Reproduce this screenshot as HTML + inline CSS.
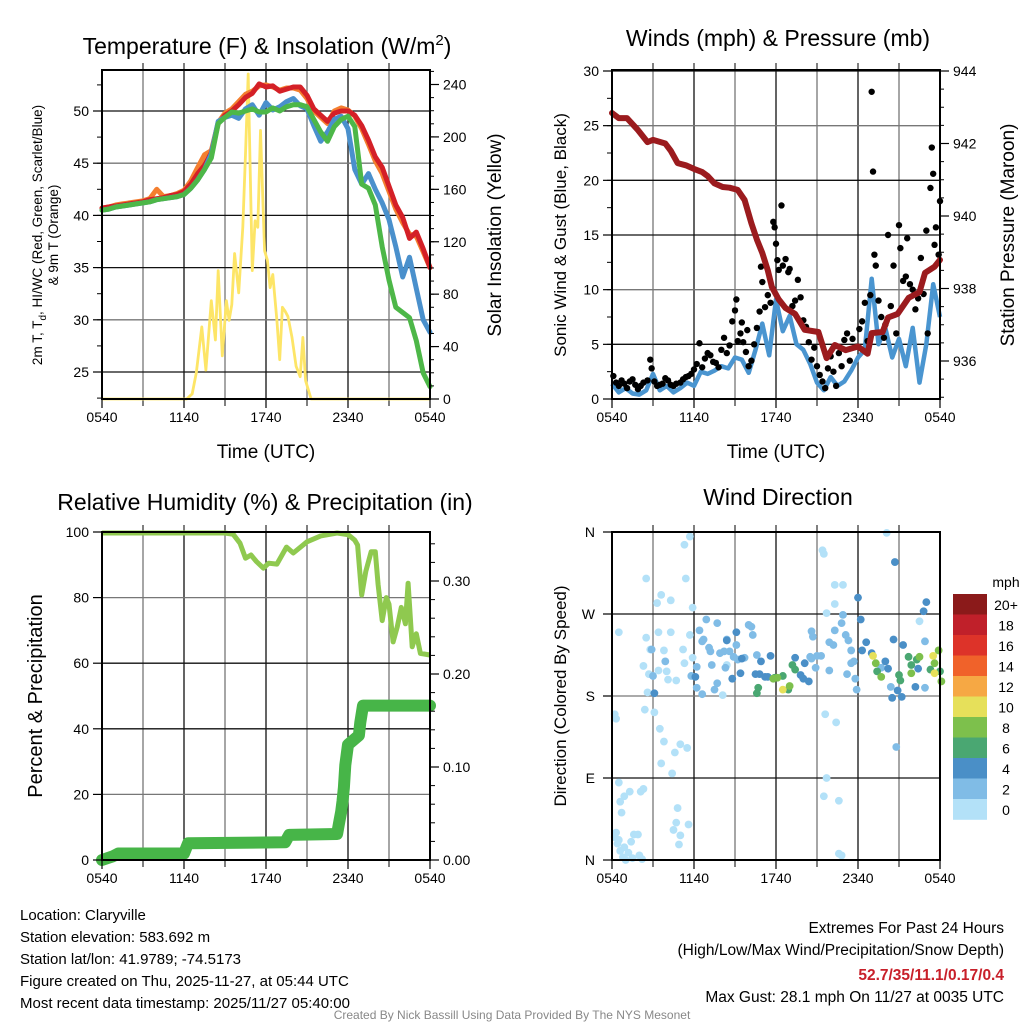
<!DOCTYPE html>
<html><head><meta charset="utf-8"><style>
html,body{margin:0;padding:0;background:#fff;}
svg{display:block;font-family:"Liberation Sans",sans-serif;}
</style></head><body>
<svg id="chart" xmlns="http://www.w3.org/2000/svg" width="1024" height="1024" viewBox="0 0 1024 1024">
<rect x="0" y="0" width="1024" height="1024" fill="#fff"/>
</svg>
<script>
// ---------- DATA ----------
const timeTicks = ["0540","1140","1740","2340","0540"];
const halfHours = [0,0.5,1,1.5,2,2.5,3,3.5,4,4.5,5,5.5,6,6.5,7,7.5,8,8.5,9,9.5,10,10.5,11,11.5,12,12.5,13,13.5,14,14.5,15,15.5,16,16.5,17,17.5,18,18.5,19,19.5,20,20.5,21,21.5,22,22.5,23,23.5,24];
const tempRed = [40.7,40.8,40.9,41.0,41.1,41.2,41.3,41.5,41.6,41.7,41.9,42.0,42.3,43.0,44.0,44.8,46.0,48.8,49.6,50.0,50.6,51.3,51.7,52.6,52.3,52.4,51.9,52.1,52.3,52.3,51.5,50.2,49.6,49.0,49.8,50.0,50.0,49.6,48.6,47.2,45.6,44.6,42.8,41.0,39.8,37.8,38.4,36.8,35.0];
const tempOrange = [40.7,40.8,41.0,41.1,41.2,41.3,41.4,41.6,42.5,41.8,41.9,42.1,42.4,43.3,44.6,45.8,46.2,48.9,49.8,50.2,50.9,51.6,51.9,52.4,52.5,52.3,52.0,52.2,52.2,52.0,51.2,50.0,49.4,48.8,50.0,50.3,50.1,49.5,48.3,46.8,45.2,44.0,42.3,40.6,39.3,38.2,38.0,36.5,35.0];
const tempBlue = [40.5,40.6,40.8,40.9,41.0,41.1,41.2,41.3,41.5,41.6,41.7,41.8,42.0,42.6,43.4,44.4,45.9,49.0,49.4,49.6,49.3,50.2,50.6,49.6,50.8,50.1,50.4,50.9,51.2,50.5,50.2,48.6,47.1,48.0,49.2,49.5,48.3,44.4,43.0,44.0,42.5,41.2,39.6,37.0,34.1,36.0,33.0,30.0,28.8];
const tempGreen = [40.5,40.6,40.8,40.9,41.0,41.1,41.2,41.3,41.5,41.6,41.7,41.8,42.0,42.6,43.4,44.4,45.5,48.8,49.4,49.9,49.8,50.0,50.2,49.9,49.9,50.3,50.0,50.4,50.6,50.6,50.4,49.2,48.0,47.1,48.5,49.2,49.5,48.5,43.0,42.6,41.0,37.0,33.8,31.2,30.7,30.2,28.0,24.9,23.6];
const solarTime = [0,6.2,6.6,6.9,7.3,7.6,8.0,8.3,8.5,8.8,9.1,9.3,9.5,9.7,10.0,10.3,10.5,10.7,11.0,11.2,11.4,11.6,11.9,12.1,12.3,12.5,12.8,13.0,13.2,13.4,13.6,13.9,14.2,14.5,14.7,14.9,15.3,24];
const solarVal = [0,0,4,20,55,22,75,45,98,33,75,60,72,111,81,131,187,248,98,136,131,205,113,106,85,95,60,30,70,67,63,47,25,17,47,14,0,0];
const pressTime = [0,0.5,1.1,1.9,2.6,3.0,3.9,4.3,4.8,5.4,6.0,6.6,7.0,7.5,8.1,8.6,9.2,9.7,10.2,10.6,11.0,11.4,11.7,12.2,12.7,13.4,14.1,15.1,15.7,16.3,17.1,18.0,18.7,19.0,19.8,20.2,20.9,21.7,22.5,22.9,23.6,24];
const pressVal = [942.84,942.7,942.7,942.37,942.04,942.1,942.0,941.8,941.46,941.4,941.3,941.21,941.1,940.9,940.8,940.78,940.72,940.44,939.8,939.35,938.98,938.5,938.04,937.7,937.46,937.3,936.86,936.8,936.08,936.44,936.3,936.4,936.2,936.77,936.8,937.2,937.3,937.74,937.9,938.43,938.6,938.79];
const windVal = [1.4,0.6,1.0,0.5,0.4,0.8,2.3,0.8,1.2,0.6,1.0,1.5,1.2,2.5,2.3,2.6,3.0,2.8,3.8,3.6,2.4,4.5,6.9,4.0,9.1,6.2,7.6,5.0,4.5,3.2,1.5,0.8,2.0,1.2,1.6,2.6,3.8,4.5,11.0,5.0,6.5,3.8,5.5,3.0,6.5,1.5,5.0,10.5,7.5];
const gustTime = [0.1,0.3,0.5,0.7,0.9,1.1,1.3,1.5,1.7,1.9,2.1,2.3,2.6,2.8,2.9,3.1,3.3,3.5,3.7,3.9,4.1,4.3,4.5,4.7,5.0,5.2,5.4,5.6,5.8,6.0,6.2,6.4,6.6,6.8,7.0,7.2,7.4,7.6,7.8,8.0,8.2,8.4,8.6,8.8,9.0,9.1,9.2,9.4,9.5,9.6,9.8,9.9,10.0,10.2,10.4,10.6,10.8,10.9,11.0,11.2,11.4,11.6,11.8,11.9,12.0,12.1,12.2,12.4,12.5,12.7,12.9,13.0,13.2,13.4,13.6,13.8,14.0,14.2,14.4,14.6,14.8,15.0,15.2,15.4,15.6,15.8,16.0,16.2,16.4,16.6,16.8,17.0,17.2,17.4,17.6,17.9,18.1,18.3,18.5,18.7,18.9,19.0,19.1,19.2,19.3,19.5,19.7,19.9,20.0,20.2,20.4,20.6,20.8,21.0,21.1,21.3,21.5,21.6,21.8,22.0,22.2,22.4,22.6,22.8,23.0,23.1,23.3,23.4,23.5,23.6,23.7,23.9,24.0];
const gustVal = [2.1,1.5,1.2,1.7,1.4,1.0,1.6,1.8,1.3,0.9,1.2,1.5,1.7,3.6,2.8,1.6,1.2,1.3,1.4,1.9,1.7,1.3,1.2,1.4,1.5,1.8,2.0,2.1,2.3,2.7,3.2,5.1,2.9,3.7,4.2,4.0,3.4,3.3,2.9,4.5,5.6,4.2,4.9,7.1,8.1,9.1,5.3,6.0,7.0,5.2,4.3,6.3,3.0,3.5,5.0,6.5,8.0,12.1,10.7,8.4,9.5,8.8,16.2,15.7,14.2,12.7,11.8,17.7,12.2,12.8,11.6,11.9,8.5,9.0,10.9,9.3,7.2,6.6,5.2,3.6,4.7,3.0,2.2,1.6,1.0,2.8,3.9,2.5,1.2,4.2,3.0,5.4,6.0,3.5,5.5,4.8,6.4,7.1,8.8,5.3,9.5,28.1,20.8,13.2,12.2,9.0,7.5,5.6,6.8,15.0,8.5,12.2,6.0,15.9,13.8,10.8,11.2,14.7,10.5,10.0,8.2,9.2,12.9,9.6,15.4,6.0,19.3,23.0,20.6,14.1,15.7,13.2,18.1];
const rhTime = [0,9.0,9.6,10.1,10.5,10.9,11.3,11.8,12.2,12.8,13.5,14.0,15.0,16.0,17.2,18.0,18.5,18.7,19.0,19.3,19.7,20.0,20.2,20.5,20.8,21.0,21.3,21.6,21.9,22.2,22.4,22.7,23.0,23.3,24];
const rhVal = [99.7,99.7,99.3,96.6,92,93,91,89,90.5,90.2,95.4,93.6,97,98.8,99.7,99.2,97.5,96,80.8,88,94,94,84,73,80,78,66.5,71,77,72,84.4,65,69,63,62.5];
const precipTime = [0,0.8,1.2,6.0,6.3,13.4,13.7,17.2,17.35,17.5,17.6,17.7,17.8,18.0,18.8,18.9,19.1,24];
const precipVal = [0.0,0.004,0.007,0.007,0.018,0.019,0.027,0.028,0.040,0.052,0.063,0.078,0.102,0.124,0.134,0.148,0.166,0.166];
const speedBins = ["0","2","4","6","8","10","12","14","16","18","20+"];
const speedColors = ["#b3e1f8","#80bce6","#4a8fc7","#4aa772","#7dc04c","#e6e05a","#f6a844","#f0622a","#dd3329","#c0202a","#8b1a1a"];
const dirSpeed1 = [[0.2,25],[0.4,18],[0.6,10],[0.8,3],[1.0,0],[1.2,8],[1.4,20],[1.6,28],[1.9,28],[2.0,5],[1.5,2],[0.9,14],[2.2,1],[0.3,30],[0.5,22],[0.5,85],[0.7,52],[0.9,70],[1.3,75],[2.1,75],[2.3,78],[0.6,64],[0.2,160],[0.3,155],[0.5,250],[2.5,309],[3.3,282],[3.6,291],[4.3,285],[5.3,346],[5.7,355],[5.4,309],[5.9,277],[2.4,165],[3.1,162],[3.5,144],[3.8,130],[3.6,106],[4.6,118],[4.4,95],[5.0,127],[5.5,123],[4.8,57],[4.7,41],[5.0,27],[4.9,17],[4.5,33],[5.6,39],[2.5,244],[2.8,231],[2.3,213],[2.7,204],[3.4,208],[3.8,230],[4.0,207],[4.1,198],[4.7,197],[5.2,231],[5.3,216],[2.6,184],[3.4,250],[4.3,250],[5.9,222],[5.7,247],[15.7,271],[16.3,302],[16.9,302],[16.3,281],[15.4,340],[15.5,336],[15.6,160],[16.4,151],[15.7,90],[15.5,70],[16.6,65],[16.6,7],[16.8,5],[20.1,359],[22.5,262],[8.4,214],[8.1,181]];
const dirSpeed3 = [[2.9,231],[3.9,218],[3.0,202],[5.8,202],[6.2,212],[6.4,252],[6.6,240],[6.7,242],[6.9,264],[7.1,233],[7.2,229],[7.3,214],[7.7,260],[7.9,227],[8.2,229],[8.3,211],[8.4,242],[8.6,229],[8.9,223],[9.1,236],[9.2,220],[9.7,222],[10.0,258],[10.2,256],[10.3,247],[10.6,225],[6.2,189],[7.7,194],[6.6,182],[7.5,187],[14.6,251],[14.7,245],[14.5,223],[14.6,221],[14.9,211],[15.0,224],[15.3,224],[15.9,239],[16.2,236],[16.3,252],[16.8,260],[16.9,269],[17.1,247],[17.3,241],[17.5,230],[17.7,218],[17.9,187],[17.8,199],[17.2,204],[20.8,124],[22.9,240],[22.9,189],[20.4,190],[15.9,208],[17.5,216],[19.7,211]];
const dirSpeed5 = [[3.1,183],[6.1,201],[8.4,241],[9.1,250],[8.8,199],[9.4,205],[9.5,221],[10.5,204],[10.8,204],[10.9,218],[11.2,201],[11.4,201],[11.6,224],[13.4,222],[13.8,203],[14.0,199],[14.1,216],[14.4,196],[18.0,288],[18.2,264],[18.6,239],[18.3,230],[19.0,227],[20.0,218],[20.2,210],[20.6,242],[20.7,327],[21.3,236],[20.5,178],[20.9,186],[21.2,179],[22.8,273],[23.0,283],[22.2,190],[22.4,210]];
const dirSpeed7 = [[10.6,183],[10.7,189],[11.9,200],[12.5,202],[13.2,214],[13.4,209],[12.9,187],[21.0,203],[21.1,197],[21.7,223],[21.9,214],[22.3,220],[23.3,209],[24.0,207],[19.4,207]];
const dirSpeed9 = [[11.8,199],[12.1,200],[13.0,191],[19.3,216],[23.9,230],[23.6,216],[24.1,196],[22.5,223],[21.9,205],[19.7,201]];
const dirSpeed11 = [[12.5,187],[19.1,224],[23.5,224],[23.6,205]];

// ---------- HELPERS ----------
const NS = "http://www.w3.org/2000/svg";
const svg = document.getElementById("chart");
function mk(tag, attrs, parent) {
  const e = document.createElementNS(NS, tag);
  for (const k in attrs) e.setAttribute(k, attrs[k]);
  (parent || svg).appendChild(e);
  return e;
}
function txt(s, x, y, size, anchor, parent, extra) {
  const e = mk("text", Object.assign({x: x, y: y, "font-size": size, "text-anchor": anchor || "middle", fill: "#000"}, extra || {}), parent);
  e.textContent = s;
  return e;
}
function lin(d0, d1, p0, p1) { return v => p0 + (v - d0) * (p1 - p0) / (d1 - d0); }
function pathFrom(xs, ys, fx, fy) {
  let d = "";
  for (let i = 0; i < xs.length; i++) d += (i ? "L" : "M") + fx(xs[i]).toFixed(1) + " " + fy(ys[i]).toFixed(1);
  return d;
}
function panelFrame(g, L, T, R, B, xTicksFn, hGrid) {
  for (let k = 1; k < 8; k++) {
    const x = L + k * (R - L) / 8;
    const gl = mk("line", {x1: x, y1: T, x2: x, y2: B, stroke: k % 2 ? "#777" : "#111", "stroke-width": 1.3}, g);
    
    
    mk("line", {x1: x, y1: T, x2: x, y2: T - 7, stroke: "#000", "stroke-width": 1}, g);
    mk("line", {x1: x, y1: B, x2: x, y2: B + 7, stroke: "#000", "stroke-width": 1}, g);
  }
  hGrid.forEach((y, i) => {
    const gl = mk("line", {x1: L, y1: y, x2: R, y2: y, stroke: i % 3 === 1 ? "#777" : "#111", "stroke-width": 1.3}, g);
    
    
  });
}
function border(g, L, T, R, B) {
  const b = mk("rect", {x: L, y: T, width: R - L, height: B - T, fill: "none", stroke: "#000", "stroke-width": 2}, g);
  
  
}
function xAxisLabels(g, fx, B) {
  timeTicks.forEach((s, i) => {
    const t = txt(s, fx(i * 6), B + 23, 14, "middle", g);
    
    
    mk("line", {x1: fx(i * 6), y1: B, x2: fx(i * 6), y2: B + 9, stroke: "#000", "stroke-width": 1.2}, g);
  });
}
function yTicks(g, vals, fy, x, side, fmt, minor, minorLen) {
  vals.forEach(v => {
    const y = fy(v);
    mk("line", {x1: x, y1: y, x2: x + side * 9, y2: y, stroke: "#000", "stroke-width": 1.2}, g);
    const t = txt(fmt(v), x + side * 13, y + 5, 14, side < 0 ? "end" : "start", g);
    
    
  });
  (minor || []).forEach(v => {
    mk("line", {x1: x, y1: fy(v), x2: x + side * (minorLen || 5), y2: fy(v), stroke: "#000", "stroke-width": 1}, g);
  });
}
function range(a, b, s) { const r = []; for (let v = a; v <= b + 1e-9; v += s) r.push(+v.toFixed(4)); return r; }

// ---------- PANEL 1: Temperature ----------
(function () {
  const L = 102, T = 70, R = 430, B = 399;
  const g = mk("g", {});
  
  
  const fx = lin(0, 24, L, R);
  const fy = lin(25, 50, 372, 111);
  const fs = lin(0, 240, 399, 84.5);
  panelFrame(g, L, T, R, B, null, [25, 30, 35, 40, 45, 50].map(fy).reverse());
  const sol = mk("path", {d: pathFrom(solarTime, solarVal, fx, fs), fill: "none", stroke: "#fde567", "stroke-width": 2.8, "stroke-linejoin": "round"}, g);
  
  
  [[tempOrange, "#f47f2f", "temp-9m-orange-line"], [tempRed, "#d42027", "temp-2m-red-line"], [tempBlue, "#4a90cc", "wind-chill-blue-line"], [tempGreen, "#4db748", "dewpoint-green-line"]].forEach(s => {
    const p = mk("path", {d: pathFrom(halfHours, s[0], fx, fy), fill: "none", stroke: s[1], "stroke-width": 5, "stroke-linejoin": "round", "stroke-linecap": "round"}, g);
    
    
  });
  border(g, L, T, R, B);
  yTicks(g, [25, 30, 35, 40, 45, 50], fy, L, -1, v => v, range(22.5, 52.5, 2.5), 5);
  yTicks(g, [0, 40, 80, 120, 160, 200, 240], fs, R, 1, v => v, range(0, 250, 10), 4);
  xAxisLabels(g, fx, B);
  const t1 = mk("text", {x: 267, y: 54, "font-size": 23, "text-anchor": "middle"}, g);
  t1.innerHTML = 'Temperature (F) &amp; Insolation (W/m<tspan dy="-9" font-size="15">2</tspan><tspan dy="9">)</tspan>';
  
  
  const xt = txt("Time (UTC)", 266, 458, 19, "middle", g);
  
  
  const yl = mk("text", {x: 0, y: 0, "font-size": 13.5, "text-anchor": "middle", transform: "translate(42,235) rotate(-90)"}, g);
  yl.innerHTML = '2m T, T<tspan dy="4" font-size="10">d</tspan><tspan dy="-4">, HI/WC (Red, Green, Scarlet/Blue)</tspan>';
  
  
  const yl2 = txt("& 9m T (Orange)", 0, 0, 13.5, "middle", g, {transform: "translate(58,235) rotate(-90)"});
  
  
  const yr = txt("Solar Insolation (Yellow)", 0, 0, 19, "middle", g, {transform: "translate(501,235) rotate(-90)"});
  
  
})();

// ---------- PANEL 2: Winds & Pressure ----------
(function () {
  const L = 612, T = 70, R = 940, B = 399;
  const g = mk("g", {});
  
  
  const fx = lin(0, 24, L, R);
  const fy = lin(0, 30, 399, 71);
  const fp = lin(936, 944, 361, 71);
  panelFrame(g, L, T, R, B, null, [30, 25, 20, 15, 10, 5].map(fy));
  const wp = mk("path", {d: pathFrom(halfHours, windVal, fx, fy), fill: "none", stroke: "#4a95d0", "stroke-width": 4.5, "stroke-linejoin": "round"}, g);
  
  
  gustTime.forEach((t, i) => {
    const c = mk("circle", {cx: fx(t), cy: fy(gustVal[i]), r: 3.2, fill: "#000"}, g);
    
    
  });
  const pp = mk("path", {d: pathFrom(pressTime, pressVal, fx, fp), fill: "none", stroke: "#9b1b1e", "stroke-width": 6, "stroke-linejoin": "round", "stroke-linecap": "round"}, g);
  
  
  border(g, L, T, R, B);
  yTicks(g, [0, 5, 10, 15, 20, 25, 30], fy, L, -1, v => v, range(0, 30, 2.5), 5);
  yTicks(g, [936, 938, 940, 942, 944], fp, R, 1, v => v, range(935, 944, 0.5), 4);
  xAxisLabels(g, fx, B);
  const t = txt("Winds (mph) & Pressure (mb)", 778, 46, 23, "middle", g);
  
  
  const xt = txt("Time (UTC)", 776, 458, 19, "middle", g);
  
  
  const yl = txt("Sonic Wind & Gust (Blue, Black)", 0, 0, 17, "middle", g, {transform: "translate(566,235) rotate(-90)"});
  
  
  const yr = txt("Station Pressure (Maroon)", 0, 0, 19, "middle", g, {transform: "translate(1014,235) rotate(-90)"});
  
  
})();

// ---------- PANEL 3: RH & Precip ----------
(function () {
  const L = 102, T = 532, R = 430, B = 860;
  const g = mk("g", {});
  
  
  const fx = lin(0, 24, L, R);
  const fy = lin(0, 100, 860, 532);
  const fpr = lin(0, 0.1, 860, 767);
  panelFrame(g, L, T, R, B, null, [100, 80, 60, 40, 20].map(fy));
  const rh = mk("path", {d: pathFrom(rhTime, rhVal, fx, fy), fill: "none", stroke: "#8fc94f", "stroke-width": 5, "stroke-linejoin": "round"}, g);
  
  
  const pr = mk("path", {d: pathFrom(precipTime, precipVal, fx, fpr), fill: "none", stroke: "#47b548", "stroke-width": 12, "stroke-linejoin": "round", "stroke-linecap": "round"}, g);
  
  
  border(g, L, T, R, B);
  yTicks(g, [0, 20, 40, 60, 80, 100], fy, L, -1, v => v, [], 5);
  yTicks(g, [0, 0.1, 0.2, 0.3], fpr, R, 1, v => v.toFixed(2), range(0, 0.35, 0.02), 5);
  xAxisLabels(g, fx, B);
  const t = txt("Relative Humidity (%) & Precipitation (in)", 265, 510, 23, "middle", g);
  
  
  const yl = txt("Percent & Precipitation", 0, 0, 20, "middle", g, {transform: "translate(42,696) rotate(-90)"});
  
  
})();

// ---------- PANEL 4: Wind Direction ----------
(function () {
  const L = 612, T = 532, R = 940, B = 860;
  const g = mk("g", {});
  
  
  const fx = lin(0, 24, L, R);
  const fy = lin(0, 360, 860, 532);
  panelFrame(g, L, T, R, B, null, [270, 180, 90].map(fy));
  [[dirSpeed1, 0], [dirSpeed3, 1], [dirSpeed5, 2], [dirSpeed7, 3], [dirSpeed9, 4], [dirSpeed11, 5]].forEach(grp => {
    grp[0].forEach(p => {
      const c = mk("circle", {cx: fx(p[0]), cy: fy(p[1]), r: 3.9, fill: speedColors[grp[1]]}, g);
      
      
    });
  });
  border(g, L, T, R, B);
  ["N", "E", "S", "W", "N"].forEach((s, i) => {
    const y = fy(i * 90);
    mk("line", {x1: L, y1: y, x2: L - 9, y2: y, stroke: "#000", "stroke-width": 1.2}, g);
    const t = txt(s, L - 17, y + 5, 14, "end", g);
    
    
  });
  xAxisLabels(g, fx, B);
  const t = txt("Wind Direction", 778, 505, 23, "middle", g);
  
  
  const yl = txt("Direction (Colored By Speed)", 0, 0, 17, "middle", g, {transform: "translate(566,696) rotate(-90)"});
  
  
  const cb = mk("g", {}, g);
  
  
  const boxH = 20.5, top = 594;
  for (let i = 0; i < speedBins.length; i++) {
    const idx = speedBins.length - 1 - i;
    const r = mk("rect", {x: 953, y: top + i * boxH, width: 34, height: boxH + 0.3, fill: speedColors[idx]}, cb);
    
    
    const l = txt(speedBins[idx], 1006, top + i * boxH + 16, 14, "middle", cb);
    
    
  }
  const u = txt("mph", 1006, 587, 14, "middle", cb);
  
  
})();

// ---------- FOOTER ----------
(function () {
  const g = mk("g", {});
  
  
  const lines = ["Location: Claryville", "Station elevation: 583.692 m", "Station lat/lon: 41.9789; -74.5173", "Figure created on Thu, 2025-11-27, at 05:44 UTC", "Most recent data timestamp: 2025/11/27 05:40:00"];
  lines.forEach((s, i) => {
    const t = txt(s, 20, 920 + i * 22, 15, "start", g);
    
    
  });
  const e1 = txt("Extremes For Past 24 Hours", 1004, 933, 15.5, "end", g);
  
  
  const e2 = txt("(High/Low/Max Wind/Precipitation/Snow Depth)", 1004, 955, 15.5, "end", g);
  
  
  const e3 = txt("52.7/35/11.1/0.17/0.4", 1004, 980, 15.5, "end", g, {fill: "#c8202a", "font-weight": "bold"});
  
  
  const e4 = txt("Max Gust: 28.1 mph On 11/27 at 0035 UTC", 1004, 1002, 15.5, "end", g);
  
  
  const c = txt("Created By Nick Bassill Using Data Provided By The NYS Mesonet", 512, 1019, 12, "middle", g, {fill: "#888"});
  
  
})();
</script>
</body></html>
